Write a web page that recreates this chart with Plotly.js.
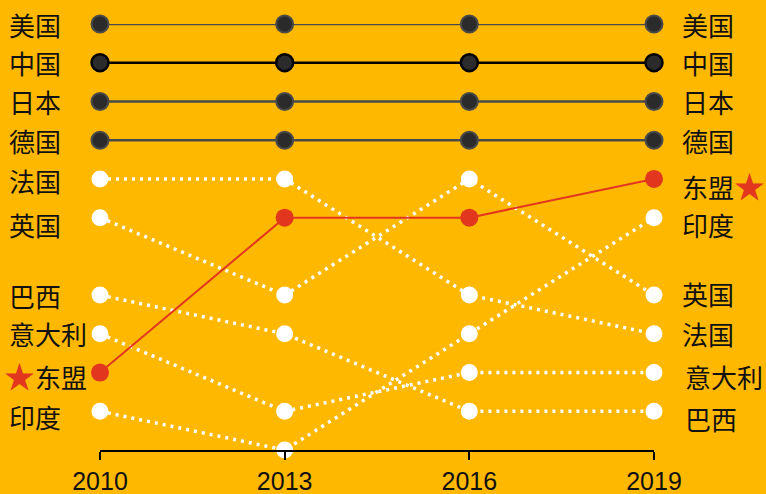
<!DOCTYPE html>
<html>
<head>
<meta charset="utf-8">
<script src="https://cdn.plot.ly/plotly-3.0.1.min.js"></script>
<style>
  html, body { margin: 0; padding: 0; background: #ffb800; }
  #chart { width: 766px; height: 494px; }
</style>
</head>
<body>
<div id="chart"></div>
<script>
// years on the x axis
const years = [2010, 2013, 2016, 2019];

// rank of each economy in each year (1 = top)
const countries = ['美国', '中国', '日本', '德国', '法国', '英国', '巴西', '意大利', '东盟', '印度'];
const rankUS      = [1, 1, 1, 1];
const rankChina   = [2, 2, 2, 2];
const rankJapan   = [3, 3, 3, 3];
const rankGermany = [4, 4, 4, 4];
const rankFrance  = [5, 5, 8, 9];
const rankUK      = [6, 8, 5, 8];
const rankBrazil  = [8, 9, 11, 11];
const rankItaly   = [9, 11, 10, 10];
const rankASEAN   = [10, 6, 6, 5];
const rankIndia   = [11, 12, 9, 6];

const ranks = [rankUS, rankChina, rankJapan, rankGermany, rankFrance,
               rankUK, rankBrazil, rankItaly, rankASEAN, rankIndia];

const STAR = '<span style="color:#e2361f;font-size:31px">★</span>';

function styleFor(name) {
  if (name === '中国') {
    return {
      line: { color: '#000000', width: 2.5 },
      marker: { color: '#2b2b2b', size: 17, line: { color: '#000000', width: 2.5 } }
    };
  }
  if (['美国', '日本', '德国'].includes(name)) {
    return {
      line: { color: '#4a4a4a', width: 2.5 },
      marker: { color: '#2b2b2b', size: 17, line: { color: '#4a4a4a', width: 2 } }
    };
  }
  if (name === '东盟') {
    return {
      line: { color: '#e2361f', width: 2 },
      marker: { color: '#e2361f', size: 18, line: { width: 0 } }
    };
  }
  return {
    line: { color: '#ffffff', width: 3.5, dash: '3px,5px' },
    marker: { color: '#ffffff', size: 17, line: { width: 0 } }
  };
}

const traces = countries.map((name, i) => {
  const s = styleFor(name);
  return {
    x: years,
    y: ranks[i],
    type: 'scatter',
    mode: 'lines+markers',
    name: name,
    line: s.line,
    marker: s.marker,
    cliponaxis: false,
    hoverinfo: 'skip'
  };
});

// put the highlighted line on top
const aseanIdx = countries.indexOf('东盟');
traces.push(traces.splice(aseanIdx, 1)[0]);

// labels left of 2010 and right of 2019 (paper coords)
const plotLeft = 100, plotRight = 654;
const plotW = plotRight - plotLeft;
const leftX = (7 - plotLeft) / plotW;
const rightX = (680 - plotLeft) / plotW;

// small nudges (px, positive = down) so labels sit like the original
const leftNudge = { '英国': 7, '东盟': 2, '印度': 5, '法国': 2 };
const rightNudge = { '东盟': 6, '印度': 7, '意大利': 4, '巴西': 7, '英国': -2 };
const rightXNudge = { '意大利': 3, '巴西': 3 };

const labelFont = { family: '"Noto Sans CJK SC", sans-serif', size: 26, color: '#111111' };

const annotations = [];
countries.forEach((name, i) => {
  const r = ranks[i];
  annotations.push({
    x: leftX, y: r[0], xref: 'paper', yref: 'y',
    text: name === '东盟' ? STAR + '东盟' : name,
    xanchor: 'left', yanchor: 'middle', showarrow: false,
    xshift: name === '东盟' ? -5 : 0,
    yshift: -(leftNudge[name] || 0),
    font: labelFont
  });
  annotations.push({
    x: rightX, y: r[3], xref: 'paper', yref: 'y',
    text: name === '东盟' ? '东盟' + STAR : name,
    xanchor: 'left', yanchor: 'middle', showarrow: false,
    xshift: rightXNudge[name] || 0,
    yshift: -(rightNudge[name] || 0),
    font: labelFont
  });
});

const layout = {
  width: 766,
  height: 494,
  paper_bgcolor: '#ffb800',
  plot_bgcolor: '#ffb800',
  showlegend: false,
  margin: { l: plotLeft, r: 766 - plotRight, t: 24, b: 44, pad: 0 },
  xaxis: {
    range: [years[0], years[3]],
    tickvals: years,
    ticktext: years.map(String),
    showgrid: false,
    zeroline: false,
    showline: true,
    linecolor: '#000000',
    linewidth: 2,
    ticks: 'outside',
    ticklen: 8,
    tickwidth: 2,
    tickcolor: '#000000',
    tickfont: { family: 'Liberation Sans, Arial, sans-serif', size: 25, color: '#111111' },
    fixedrange: true
  },
  yaxis: {
    range: [12, 1],
    showgrid: false,
    zeroline: false,
    showline: false,
    showticklabels: false,
    ticks: '',
    fixedrange: true
  },
  annotations: annotations
};

Plotly.newPlot('chart', traces, layout, { displayModeBar: false, staticPlot: true });
</script>
</body>
</html>
